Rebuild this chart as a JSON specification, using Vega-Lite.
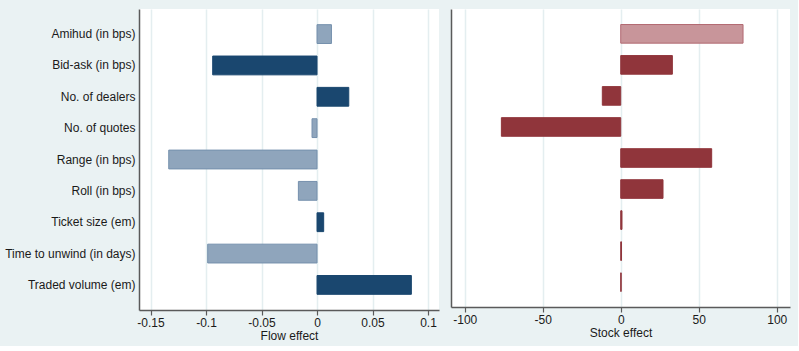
{
  "$schema": "https://vega.github.io/schema/vega-lite/v6.json",
  "background": "#eaf2f3",
  "padding": {"left": 4, "top": 9, "right": 8, "bottom": 5},
  "spacing": 12,
  "resolve": {"scale": {"fill": "independent", "stroke": "independent", "x": "independent", "y": "independent"}},
  "datasets": {
    "d": [
      {"measure": "Amihud (in bps)", "flow": 0.013, "flowSig": "no", "stock": 78.4, "stockSig": "no"},
      {"measure": "Bid-ask (in bps)", "flow": -0.094, "flowSig": "yes", "stock": 33.1, "stockSig": "yes"},
      {"measure": "No. of dealers", "flow": 0.0286, "flowSig": "yes", "stock": -11.8, "stockSig": "yes"},
      {"measure": "No. of quotes", "flow": -0.0045, "flowSig": "no", "stock": -76.5, "stockSig": "yes"},
      {"measure": "Range (in bps)", "flow": -0.1336, "flowSig": "no", "stock": 58.3, "stockSig": "yes"},
      {"measure": "Roll (in bps)", "flow": -0.0168, "flowSig": "no", "stock": 27.1, "stockSig": "yes"},
      {"measure": "Ticket size (em)", "flow": 0.006, "flowSig": "yes", "stock": 0.8, "stockSig": "yes"},
      {"measure": "Time to unwind (in days)", "flow": -0.0985, "flowSig": "no", "stock": 0.5, "stockSig": "yes"},
      {"measure": "Traded volume (em)", "flow": 0.085, "flowSig": "yes", "stock": 0.3, "stockSig": "yes"}
    ]
  },
  "config": {
    "font": "Liberation Sans",
    "view": {"fill": "white", "stroke": null},
    "axis": {
      "labelFont": "Liberation Sans",
      "titleFont": "Liberation Sans",
      "labelFontSize": 12,
      "titleFontSize": 12,
      "labelColor": "#1a1a1a",
      "titleColor": "#1a1a1a",
      "titleFontWeight": "normal",
      "domainColor": "#5a5a5a",
      "domainWidth": 1.5,
      "tickColor": "#5a5a5a",
      "tickWidth": 1.2
    }
  },
  "hconcat": [
    {
      "width": 300,
      "height": 301,
      "data": {"name": "d"},
      "mark": {"type": "bar", "strokeWidth": 1},
      "encoding": {
        "y": {
          "field": "measure", "type": "nominal", "sort": null,
          "scale": {"paddingInner": 0.4, "paddingOuter": 0.5},
          "axis": {"title": null, "ticks": false, "labelPadding": 4, "grid": false}
        },
        "x": {
          "field": "flow", "type": "quantitative",
          "scale": {"domain": [-0.1604, 0.1099], "nice": false, "zero": false},
          "axis": {
            "title": "Flow effect",
            "values": [-0.15, -0.1, -0.05, 0, 0.05, 0.1],
            "labelExpr": "datum.value + ''",
            "grid": true, "gridColor": "#e4eef0", "gridWidth": 1.5,
            "tickSize": 5, "labelPadding": 2, "titlePadding": 2
          }
        },
        "fill": {
          "field": "flowSig", "type": "nominal",
          "scale": {"domain": ["yes", "no"], "range": ["#1a476f", "#8fa5bc"]},
          "legend": null
        },
        "stroke": {
          "field": "flowSig", "type": "nominal",
          "scale": {"domain": ["yes", "no"], "range": ["#1a476f", "#7590ad"]},
          "legend": null
        }
      }
    },
    {
      "width": 339,
      "height": 298,
      "data": {"name": "d"},
      "mark": {"type": "bar", "strokeWidth": 1},
      "encoding": {
        "y": {
          "field": "measure", "type": "nominal", "sort": null,
          "scale": {"paddingInner": 0.4, "paddingOuter": 0.5},
          "axis": {"title": null, "ticks": false, "labels": false, "grid": false}
        },
        "x": {
          "field": "stock", "type": "quantitative",
          "scale": {"domain": [-108.8, 108.5], "nice": false, "zero": false},
          "axis": {
            "title": "Stock effect",
            "values": [-100, -50, 0, 50, 100],
            "labelExpr": "datum.value + ''",
            "grid": true, "gridColor": "#e4eef0", "gridWidth": 1.5,
            "tickSize": 5, "labelPadding": 2, "titlePadding": 2
          }
        },
        "fill": {
          "field": "stockSig", "type": "nominal",
          "scale": {"domain": ["yes", "no"], "range": ["#90353b", "#c8959a"]},
          "legend": null
        },
        "stroke": {
          "field": "stockSig", "type": "nominal",
          "scale": {"domain": ["yes", "no"], "range": ["#90353b", "#b26a72"]},
          "legend": null
        }
      }
    }
  ]
}
